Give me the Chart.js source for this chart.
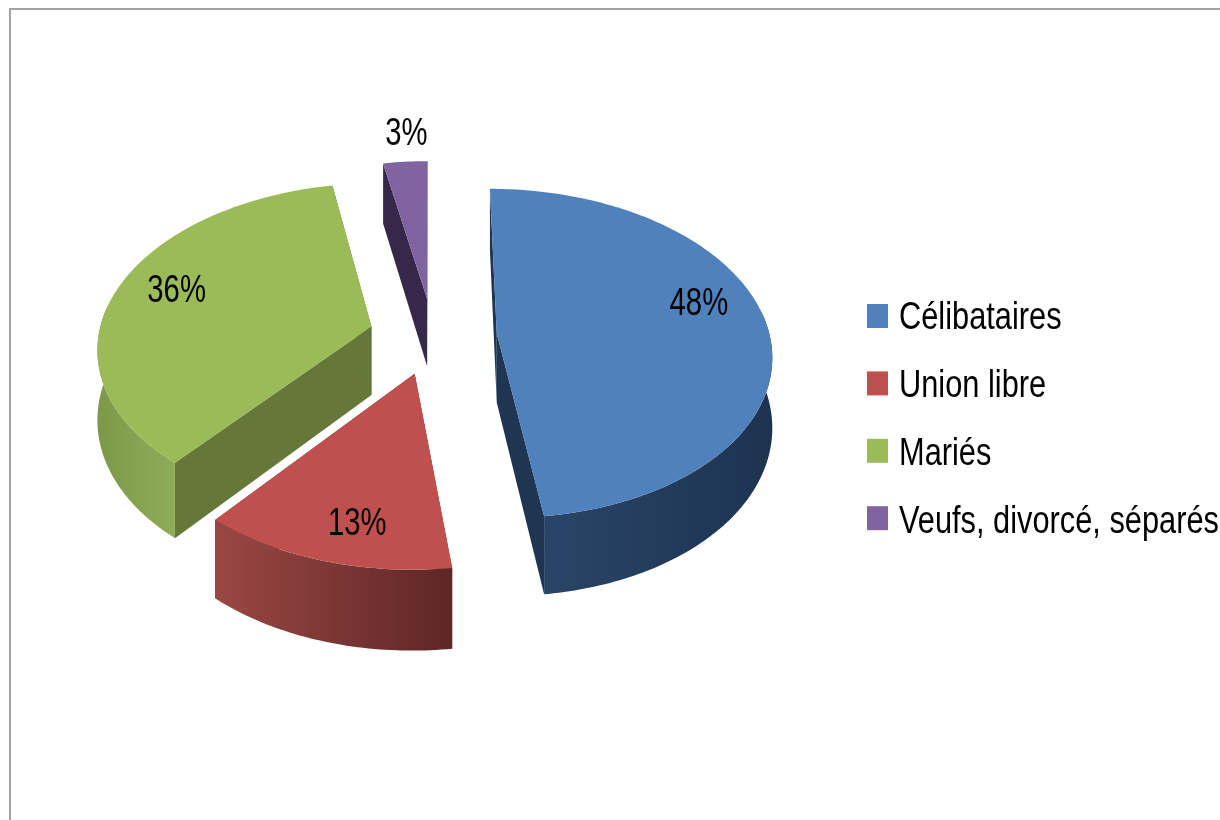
<!DOCTYPE html>
<html>
<head>
<meta charset="utf-8">
<script src="https://cdn.jsdelivr.net/npm/chart.js@4"></script>
<style>
html,body{margin:0;padding:0;background:#fff;overflow:hidden}
#frame{position:absolute;left:9px;top:8px;width:1211px;height:812px;box-sizing:border-box;border-top:2px solid #a3a3a3;border-left:2px solid #a3a3a3}
canvas{position:absolute;left:0;top:0}
</style>
</head>
<body>
<div id="frame"></div>
<canvas id="c" width="1220" height="820"></canvas>
<script>
const categories = ['Célibataires', 'Union libre', 'Mariés', 'Veufs, divorcé, séparés'];
const values = [48, 13, 36, 3];
const topColors = ['#4F81BD', '#C0504D', '#9BBB59', '#8064A2'];
const innerWallColors = ['#1F3552', '#5E2826', '#65783A', '#37284A'];
const outerWallLeft = ['#2A4568', '#9A4744', '#7C994A', '#37284A'];
const outerWallRight = ['#1D3350', '#5E2625', '#8DAC58', '#37284A'];
const labelRadii = [0.73, 0.72, 0.72, 1.1];
const labelNudgeX = [5, 6, -11, 3];
const labelNudgeY = [-22, 21, -7, -15];

const FONT = '"Liberation Sans",sans-serif';
const TILT = 0.596, PERSP = 0.12, DEPTH = 69, STEP = Math.PI / 180;

function project(el, th, rad, z) {
  const off = el.options.offset, mid = (el.startAngle + el.endAngle) / 2;
  const u = off * Math.cos(mid) + rad * Math.cos(th);
  const v = off * Math.sin(mid) + rad * Math.sin(th);
  const s = 1 / (1 - PERSP * v / el.outerRadius);
  return { x: el.x + u * s, y: el.y + TILT * v * s + z * DEPTH * s };
}
function poly(ctx, pts, fill) {
  ctx.beginPath();
  pts.forEach((p, i) => i ? ctx.lineTo(p.x, p.y) : ctx.moveTo(p.x, p.y));
  ctx.closePath();
  ctx.fillStyle = fill;
  ctx.fill();
}
function arcAngles(a, b) {
  const out = [];
  for (let t = a; t < b; t += STEP) out.push(t);
  out.push(b);
  return out;
}
function narrowText(ctx, text, x, y, squeeze) {
  ctx.save();
  ctx.translate(x, y);
  ctx.scale(squeeze, 1);
  ctx.fillText(text, 0, 0);
  ctx.restore();
}

const pie3d = {
  id: 'pie3d',
  beforeDatasetDraw(chart, args) {
    const ctx = chart.ctx, meta = args.meta;
    const order = meta.data.map((el, i) => i).sort((a, b) => {
      const m = i => { const e = meta.data[i]; return Math.sin((e.startAngle + e.endAngle) / 2); };
      return m(a) - m(b);
    });
    order.forEach(i => {
      const el = meta.data[i], R = el.outerRadius;
      const a = el.startAngle, b = el.endAngle;
      [a, b].forEach(t => poly(ctx, [
        project(el, t, 0, 0), project(el, t, R, 0), project(el, t, R, 1), project(el, t, 0, 1)
      ], innerWallColors[i]));
      const lo = Math.max(a, -8 * STEP), hi = Math.min(b, 188 * STEP);
      if (hi > lo) {
        const ts = arcAngles(lo, hi);
        const top = ts.map(t => project(el, t, R, 0));
        const bot = ts.map(t => project(el, t, R, 1));
        const xs = top.map(p => p.x);
        const g = ctx.createLinearGradient(Math.min(...xs), 0, Math.max(...xs), 0);
        g.addColorStop(0, outerWallLeft[i]);
        g.addColorStop(1, outerWallRight[i]);
        poly(ctx, top.concat(bot.reverse()), g);
      }
      const face = [project(el, a, 0, 0)].concat(arcAngles(a, b).map(t => project(el, t, R, 0)));
      poly(ctx, face, el.options.backgroundColor);
    });
    ctx.fillStyle = '#000';
    ctx.font = '38px ' + FONT;
    ctx.textAlign = 'center';
    ctx.textBaseline = 'middle';
    meta.data.forEach((el, i) => {
      const mid = (el.startAngle + el.endAngle) / 2;
      const p = project(el, mid, el.outerRadius * labelRadii[i], 0);
      narrowText(ctx, values[i] + '%', p.x + labelNudgeX[i], p.y + labelNudgeY[i], 0.77);
    });
    return false;
  },
  afterDraw(chart) {
    const ctx = chart.ctx;
    ctx.save();
    ctx.textAlign = 'left';
    ctx.textBaseline = 'middle';
    ctx.font = '38px ' + FONT;
    categories.forEach((name, i) => {
      const y = 316 + i * 67.4;
      ctx.fillStyle = topColors[i];
      ctx.fillRect(867, y - 12, 21, 24);
      ctx.fillStyle = '#000';
      narrowText(ctx, name, 899, 318.5 + i * 68, 0.81);
    });
    ctx.restore();
  }
};

new Chart(document.getElementById('c'), {
  type: 'pie',
  data: {
    labels: categories,
    datasets: [{ data: values, backgroundColor: topColors, borderWidth: 0, offset: 64, radius: 273 }]
  },
  options: {
    responsive: false,
    animation: false,
    radius: 273,
    layout: { padding: { right: 354, bottom: 148 } },
    plugins: { legend: { display: false }, tooltip: { enabled: false } }
  },
  plugins: [pie3d]
});
</script>
</body>
</html>
